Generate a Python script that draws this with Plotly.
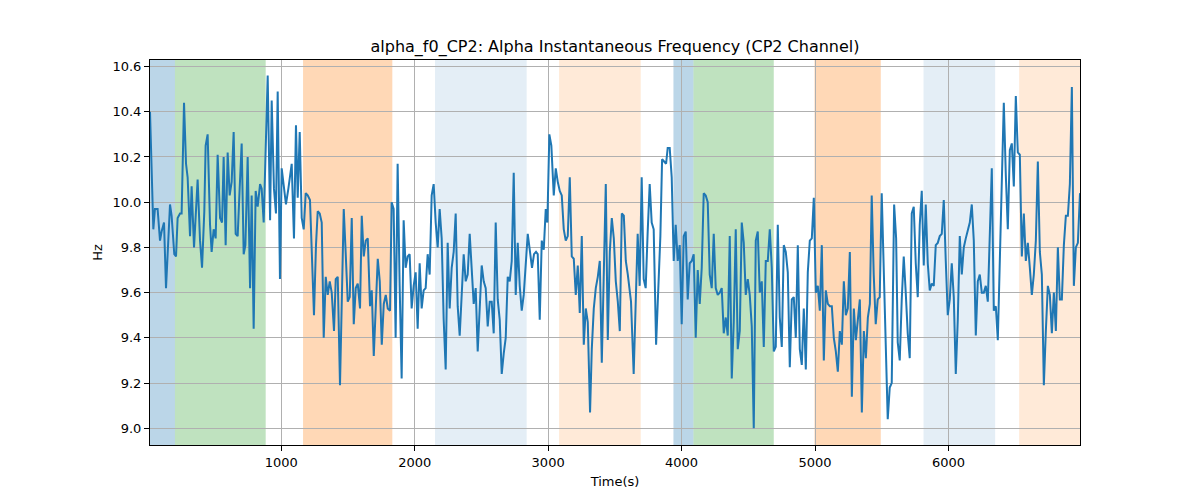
import plotly.graph_objects as go

# ---- data ----
time_s = [
    16, 41, 53, 73, 91, 103, 121, 136, 166, 178, 198, 211, 223, 241, 253, 271, 286, 298, 316, 328,
    346, 361, 373, 391, 406, 423, 433, 448, 466, 478, 493, 508, 523, 541, 556, 568, 583, 598, 613, 628,
    643, 658, 673, 688, 703, 718, 731, 748, 766, 778, 793, 808, 823, 841, 853, 868, 898, 916,
    928, 945, 960, 973, 990, 1003, 1020, 1035, 1053, 1078, 1095, 1110, 1123, 1138, 1153, 1168, 1183, 1198, 1215, 1245,
    1260, 1273, 1288, 1303, 1318, 1333, 1348, 1363, 1378, 1395, 1408, 1423, 1440, 1453, 1468, 1483, 1498, 1513, 1528, 1543,
    1558, 1573, 1590, 1603, 1618, 1633, 1648, 1665, 1678, 1693, 1708, 1723, 1738, 1753, 1768, 1783, 1798, 1815,
    1827, 1842, 1857, 1872, 1887, 1902, 1917, 1932, 1947, 1962, 1977, 1992, 2007, 2022, 2037, 2052, 2067, 2082, 2097, 2112,
    2127, 2142, 2157, 2172, 2187, 2202, 2217, 2232, 2247, 2262, 2277, 2292, 2307, 2322, 2337, 2352, 2367, 2382, 2397, 2412,
    2427, 2442, 2457, 2472, 2487, 2502, 2517, 2532, 2547, 2562, 2577, 2592, 2607, 2622, 2637, 2652, 2667, 2682, 2697, 2712,
    2727, 2742, 2757, 2772, 2787, 2802, 2817, 2832, 2847, 2864, 2879, 2894, 2909, 2922, 2937, 2952, 2967, 2982, 2994, 3009,
    3024, 3042, 3057, 3072, 3087, 3102, 3117, 3132, 3147, 3162, 3177, 3192, 3207, 3222, 3237, 3252, 3267, 3282, 3297, 3314,
    3327, 3342, 3357, 3372, 3387, 3402, 3417, 3432, 3447, 3462, 3477, 3492, 3507, 3522, 3537, 3552, 3567, 3582, 3597,
    3621, 3641, 3656, 3671, 3686, 3701, 3716, 3731, 3746, 3761, 3776, 3791, 3809, 3826, 3841, 3854, 3869, 3884, 3896, 3911,
    3926, 3941, 3956, 3971, 3986, 4001, 4016, 4031, 4046, 4061, 4076, 4091, 4106, 4121, 4136, 4151, 4166, 4181, 4196, 4211,
    4226, 4241, 4256, 4271, 4286, 4301, 4316, 4331, 4346, 4361, 4376, 4391, 4406, 4421, 4436, 4451, 4466, 4481, 4496,
    4511, 4526, 4541, 4556, 4571, 4586, 4601, 4616, 4631, 4646, 4661, 4676, 4691, 4706, 4721, 4736, 4751, 4766, 4781, 4796,
    4811, 4826, 4841, 4856, 4871, 4886, 4901, 4916, 4931, 4946, 4961, 4976, 4991, 5006, 5021, 5036, 5051, 5066, 5081, 5096,
    5111, 5126, 5141, 5156, 5171, 5186, 5201, 5216, 5231, 5246, 5261, 5276, 5291, 5306, 5321, 5336, 5351, 5366, 5381, 5396,
    5411, 5425, 5440, 5455, 5470, 5485, 5500, 5515, 5530, 5545, 5560, 5575, 5593, 5608, 5620, 5635, 5650, 5665, 5680, 5695,
    5710, 5725, 5740, 5755, 5770, 5785, 5800, 5815, 5830, 5845, 5860, 5875, 5890, 5905, 5920, 5935, 5950, 5965, 5980, 5995,
    6010, 6025, 6040, 6055, 6070, 6085, 6100, 6115, 6130, 6145, 6160, 6175, 6190, 6205, 6220, 6235, 6250, 6265, 6280, 6295,
    6325, 6340, 6355, 6370, 6385, 6400, 6415, 6430, 6445, 6460, 6475, 6490, 6505, 6520, 6535, 6550, 6565, 6580, 6595, 6610,
    6625, 6640, 6655, 6670, 6685, 6700, 6715, 6730, 6745, 6760, 6775, 6790, 6805, 6820, 6835, 6850, 6865, 6880, 6895, 6910,
    6925, 6940, 6955, 6970, 6986,
]

freq_hz = [
    10.40, 9.88, 9.97, 9.97, 9.83, 9.87, 9.91, 9.62, 9.99, 9.94, 9.77, 9.76, 9.93, 9.95, 9.95, 10.44, 10.17, 10.11, 9.85, 10.07,
    9.80, 9.96, 10.10, 9.83, 9.71, 9.96, 10.25, 10.30, 9.90, 9.78, 9.88, 9.84, 10.21, 9.93, 9.91, 10.20, 9.81, 10.22, 10.03, 10.09,
    10.31, 9.86, 9.85, 10.06, 10.26, 9.77, 9.81, 10.20, 9.62, 10.03, 9.44, 10.05, 9.98, 10.08, 10.06, 9.91, 10.56, 9.92,
    10.45, 10.06, 9.95, 10.49, 9.66, 10.15, 10.06, 9.99, 10.06, 10.17, 9.84, 10.34, 10.02, 10.31, 9.93, 9.88, 10.04, 10.03, 10.01, 9.50,
    9.81, 9.96, 9.95, 9.91, 9.40, 9.67, 9.59, 9.65, 9.60, 9.43, 9.66, 9.67, 9.19, 9.63, 9.97, 9.77, 9.56, 9.58, 9.93, 9.46,
    9.62, 9.64, 9.53, 9.94, 9.76, 9.83, 9.84, 9.54, 9.61, 9.32, 9.53, 9.75, 9.65, 9.37, 9.55, 9.59, 9.53, 9.52,
    10.00, 9.97, 9.40, 10.17, 9.63, 9.22, 9.92, 9.71, 9.76, 9.77, 9.53, 9.63, 9.69, 9.44, 9.73, 9.53, 9.61, 9.62, 9.77, 9.68,
    10.03, 10.08, 9.91, 9.80, 9.97, 9.84, 9.48, 9.26, 9.82, 9.53, 9.71, 9.78, 9.95, 9.54, 9.41, 9.62, 9.77, 9.65, 9.68, 9.86,
    9.68, 9.55, 9.62, 9.34, 9.53, 9.72, 9.65, 9.62, 9.45, 9.56, 9.56, 9.42, 9.91, 9.57, 9.48, 9.24, 9.33, 9.40, 9.67, 9.65,
    9.74, 10.13, 9.59, 9.82, 9.63, 9.52, 9.59, 9.74, 9.86, 9.78, 9.71, 9.77, 9.78, 9.77, 9.48, 9.83, 9.79, 9.97, 9.91, 10.30,
    10.25, 10.03, 10.15, 10.09, 10.05, 10.03, 9.88, 9.83, 9.85, 10.11, 9.76, 9.75, 9.59, 9.72, 9.51, 9.85, 9.37, 9.53, 9.47, 9.07,
    9.35, 9.53, 9.62, 9.67, 9.74, 9.29, 9.74, 10.08, 9.39, 9.78, 9.93, 9.84, 9.65, 9.56, 9.43, 9.95, 9.94, 9.74, 9.68,
    9.56, 9.24, 9.53, 9.86, 9.63, 10.11, 9.66, 9.62, 9.87, 10.08, 9.91, 9.88, 9.37, 9.62, 9.85, 10.19, 10.18, 10.17, 10.24, 10.24,
    10.11, 9.74, 9.90, 9.74, 9.81, 9.46, 9.85, 9.87, 9.57, 9.73, 9.74, 9.77, 9.40, 9.70, 9.55, 9.71, 10.04, 10.03, 10.00, 9.68,
    9.62, 9.86, 9.62, 9.59, 9.60, 9.62, 9.42, 9.49, 9.41, 9.85, 9.22, 9.47, 9.88, 9.35, 9.43, 9.91, 9.82, 9.59, 9.66,
    9.59, 9.45, 9.00, 9.83, 9.87, 9.60, 9.65, 9.36, 9.74, 9.74, 9.88, 9.71, 9.34, 9.36, 9.90, 9.49, 9.36, 9.81, 9.78, 9.69,
    9.27, 9.57, 9.58, 9.40, 9.81, 9.35, 9.28, 9.53, 9.26, 9.69, 9.83, 9.84, 10.02, 9.60, 9.63, 9.52, 9.81, 9.30, 9.61, 9.55,
    9.54, 9.54, 9.40, 9.34, 9.25, 9.43, 9.37, 9.65, 9.50, 9.53, 9.78, 9.14, 9.53, 9.39, 9.48, 9.57, 9.07, 9.43, 9.31, 9.49,
    9.55, 10.03, 9.68, 9.46, 9.57, 9.58, 10.04, 9.74, 9.41, 9.04, 9.18, 9.20, 9.99, 9.84, 9.38, 9.30, 9.57, 9.76, 9.60, 9.42,
    9.31, 9.95, 9.98, 9.73, 9.58, 9.90, 10.05, 9.72, 9.99, 9.73, 9.61, 9.64, 9.63, 9.81, 9.82, 9.85, 9.86, 10.01, 9.74, 9.50,
    9.57, 9.73, 9.58, 9.24, 9.48, 9.85, 9.68, 9.80, 9.84, 9.88, 9.91, 9.99, 9.83, 9.41, 9.65, 9.68, 9.60, 9.60, 9.63, 9.56,
    10.15, 9.52, 9.54, 9.39, 9.71, 10.09, 10.44, 10.12, 9.88, 10.23, 10.26, 10.07, 10.47, 10.22, 10.21, 9.76, 9.95, 9.74, 9.82, 9.71,
    9.59, 9.68, 9.83, 10.18, 9.78, 9.68, 9.19, 9.43, 9.63, 9.59, 9.42, 9.60, 9.43, 9.80, 9.57, 9.57, 9.81, 9.94, 9.94, 10.08,
    10.51, 9.63, 9.80, 9.82, 10.04,
]

# shaded intervals (start, end, colour name)
span_start = [16, 203, 1163, 2152, 3082, 3939, 4089, 4996, 5813, 6530]
span_end = [203, 883, 1832, 2839, 3694, 4089, 4691, 5493, 6350, 6986]
span_kind = ["blue", "green", "orange", "lightblue", "lightorange",
             "blue", "green", "orange", "lightblue", "lightorange"]

x_ticks = [1000, 2000, 3000, 4000, 5000, 6000]
y_ticks = [9.0, 9.2, 9.4, 9.6, 9.8, 10.0, 10.2, 10.4, 10.6]

# ---- styling ----
span_fill = {
    "blue": "rgba(31,119,180,0.30)",
    "green": "rgba(44,160,44,0.30)",
    "orange": "rgba(255,127,14,0.30)",
    "lightblue": "rgba(31,119,180,0.12)",
    "lightorange": "rgba(255,127,14,0.16)",
}

fig = go.Figure()
fig.add_trace(go.Scatter(x=time_s, y=freq_hz, mode="lines",
                         line=dict(color="#1f77b4", width=2), showlegend=False))

for s, e, k in zip(span_start, span_end, span_kind):
    fig.add_shape(type="rect", xref="x", yref="paper", x0=s, x1=e, y0=0, y1=1,
                  fillcolor=span_fill[k], line=dict(width=0), layer="below")

font = "DejaVu Sans, Arial, sans-serif"
# page body has an 8px default margin, so the figure is offset by 8px
fig.update_layout(
    width=1200, height=500,
    margin=dict(l=142, r=128, t=52, b=63),
    paper_bgcolor="white", plot_bgcolor="white",
    font=dict(family=font, size=13, color="black"),
    title=dict(text="alpha_f0_CP2: Alpha Instantaneous Frequency (CP2 Channel)",
               x=607 / 1200, xanchor="center", y=1 - 38 / 500, yanchor="middle",
               yref="container", font=dict(size=16, color="black", family=font)),
)
fig.update_xaxes(
    range=[16, 6986], tickvals=x_ticks, ticks="outside", ticklen=5, tickcolor="black",
    showline=True, linecolor="black", linewidth=1, mirror=True,
    showgrid=True, gridcolor="#b0b0b0", gridwidth=1, zeroline=False,
    title=dict(text="Time(s)", font=dict(size=13), standoff=8),
)
fig.update_yaxes(
    range=[8.926, 10.629], tickvals=y_ticks, tickformat=".1f", ticks="outside", ticklen=5,
    tickcolor="black", showline=True, linecolor="black", linewidth=1, mirror=True,
    showgrid=True, gridcolor="#b0b0b0", gridwidth=1, zeroline=False,
    title=dict(text="Hz", font=dict(size=13), standoff=6),
)

fig.write_html("out.html")
